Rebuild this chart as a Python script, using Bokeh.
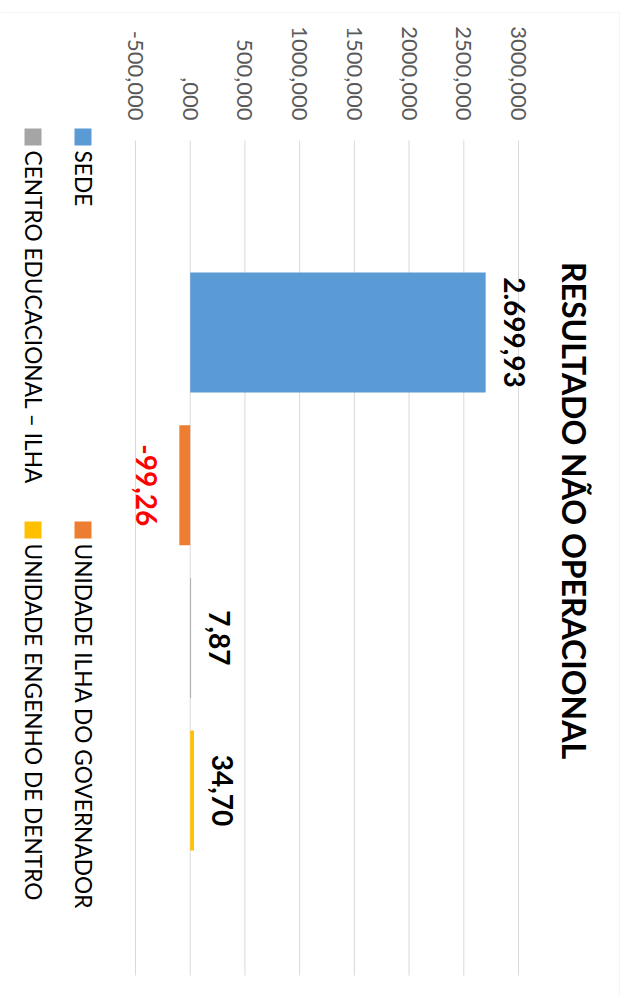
import math
from bokeh.plotting import figure
from bokeh.models import ColumnDataSource, Range1d, LabelSet, Label, BoxAnnotation
from bokeh.core.properties import value
from bokeh.embed import file_html
from bokeh.resources import INLINE

# ---- data ----
series = ["SEDE", "UNIDADE ILHA DO GOVERNADOR", "CENTRO EDUCACIONAL – ILHA",
          "UNIDADE ENGENHO DE DENTRO"]
values = [2699.93, -99.26, 7.87, 34.70]
value_labels = ["2.699,93", "-99,26", "7,87", "34,70"]
colors = ["#5B9BD5", "#ED7D31", "#A5A5A5", "#FFC000"]
tick_values = [-500, 0, 500, 1000, 1500, 2000, 2500, 3000]
tick_labels = ["-500,000", ",000", "500,000", "1000,000", "1500,000",
               "2000,000", "2500,000", "3000,000"]
title_text = "RESULTADO NÃO OPERACIONAL"

# ---- layout (page pixels) ----
W, H = 622, 996
PL, PR, PT, PB = 135, 518, 140, 975      # plot area edges
XMIN, XMAX = tick_values[0], tick_values[-1]
KX = (PR - PL) / (XMAX - XMIN)           # px per value unit
Y0, DY = 332, 152.7                      # first bar centre, bar spacing (px)
ROT = -math.pi / 2
FONT = "Lato"

def yv(page_y):
    return (page_y - Y0) / DY

x_range = Range1d(XMIN - PL / KX, XMIN + (W - PL) / KX)
y_range = Range1d(yv(H), yv(0))

idx = list(range(len(series)))
src = ColumnDataSource(dict(idx=idx, value=values, color=colors, name=series))
pos = [i for i, v in enumerate(values) if v >= 0]
neg = [i for i, v in enumerate(values) if v < 0]
src_pos = ColumnDataSource(dict(x=[values[i] for i in pos], y=pos,
                                t=[value_labels[i] for i in pos]))
src_neg = ColumnDataSource(dict(x=[values[i] for i in neg], y=neg,
                                t=[value_labels[i] for i in neg]))

p = figure(width=W, height=H, output_backend="svg", toolbar_location=None,
           x_range=x_range, y_range=y_range,
           x_axis_location=None, y_axis_location=None,
           min_border=0)
p.outline_line_color = None
p.background_fill_color = "white"
p.border_fill_color = "white"
p.grid.grid_line_color = None

# gridlines at the value ticks
p.segment(x0=tick_values, x1=tick_values,
          y0=[yv(PT)] * len(tick_values), y1=[yv(PB)] * len(tick_values),
          line_color="#D9D9D9", line_width=1)

# value tick labels (rotated, right-aligned just above the plot area)
p.text(x=tick_values, y=[yv(PT - 20)] * len(tick_values), text=tick_labels,
       angle=ROT, text_align="right", text_baseline="middle",
       text_font=value(FONT), text_font_size="22px", text_color="#595959")

# bars
p.hbar(y="idx", left=0, right="value", height=0.786, fill_color="color",
       line_color=None, source=src)

# data labels
p.add_layout(LabelSet(x="x", y="y", text="t", source=src_pos, angle=ROT,
                      x_offset=18, text_align="center", text_baseline="bottom",
                      text_font=value(FONT), text_font_style="bold",
                      text_font_size="28px", text_color="#000000"))
p.add_layout(LabelSet(x="x", y="y", text="t", source=src_neg, angle=ROT,
                      x_offset=-22, text_align="center", text_baseline="top",
                      text_font=value(FONT), text_font_style="bold",
                      text_font_size="28px", text_color="#FF0000"))

# title
p.add_layout(Label(x=574, y=H - 510, x_units="screen", y_units="screen",
                   text=title_text, angle=ROT, text_align="center",
                   text_baseline="middle", text_font=FONT, text_font_style="bold",
                   text_font_size="32px", text_color="#000000"))

# legend (two rows, rotated)
leg_rows = [82.5, 32.5]
leg_cols = [128, 521]
for k, name in enumerate(series):
    r, c = k // 2, k % 2
    cx = leg_rows[r]
    y0 = leg_cols[c]
    p.add_layout(BoxAnnotation(left=cx - 8.5, right=cx + 8.5,
                               top=H - y0, bottom=H - y0 - 17,
                               left_units="screen", right_units="screen",
                               top_units="screen", bottom_units="screen",
                               fill_color=colors[k], fill_alpha=1, line_color=None))
    p.add_layout(Label(x=cx, y=H - y0 - 22, x_units="screen", y_units="screen",
                       text=name, angle=ROT, text_align="left",
                       text_baseline="middle", text_font=FONT,
                       text_font_size="22.7px", text_color="#000000"))

# chart border (top and right edges visible)
p.add_layout(BoxAnnotation(left=-10, right=619, top=H - 12, bottom=-10,
                           left_units="screen", right_units="screen",
                           top_units="screen", bottom_units="screen",
                           fill_alpha=0, line_color="#D9D9D9", line_width=1))

open("out.html", "w").write(file_html(p, INLINE))
